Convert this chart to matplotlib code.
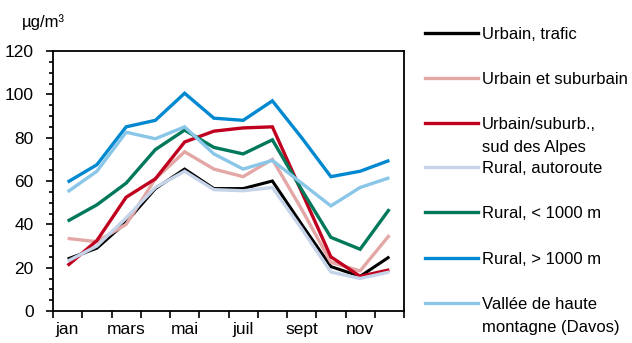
import matplotlib
matplotlib.use("Agg")
import matplotlib.pyplot as plt
from matplotlib.lines import Line2D
from matplotlib.ticker import MultipleLocator, FixedLocator, NullFormatter

plt.rcParams['font.family'] = ['Liberation Sans', 'DejaVu Sans']

months = ["jan", "fév", "mars", "avr", "mai", "juin", "juil", "août", "sept", "oct", "nov", "déc"]
month_labels = ["jan", "", "mars", "", "mai", "", "juil", "", "sept", "", "nov", ""]

series_names = [
    "Urbain, trafic",
    "Urbain et suburbain",
    "Urbain/suburb.,\nsud des Alpes",
    "Rural, autoroute",
    "Rural, < 1000 m",
    "Rural, > 1000 m",
    "Vallée de haute\nmontagne (Davos)",
]

urbain_trafic = [24, 29, 41, 56.5, 65.5, 56.5, 56.5, 60, 40, 20.5, 16, 25]
urbain_suburbain = [33.5, 32, 40, 61, 73.5, 65.5, 62, 70, 47, 22.5, 18.5, 35]
urbain_sud_alpes = [21, 32.5, 52.5, 61, 78, 83, 84.5, 85, 55, 25, 16, 19]
rural_autoroute = [23, 30, 43, 57, 64.5, 56, 55.5, 57, 38, 18, 15, 18]
rural_bas = [41.5, 49, 59, 74.5, 83.5, 75.5, 72.5, 79, 56, 34, 28.5, 47]
rural_haut = [59.5, 67.5, 85, 88, 100.5, 89, 88, 97, 80, 62, 64.5, 69.5]
davos = [55, 64.5, 82.5, 79.5, 85, 72.5, 65.5, 69.5, 59, 48.5, 57, 61.5]

series_values = [urbain_trafic, urbain_suburbain, urbain_sud_alpes, rural_autoroute,
                 rural_bas, rural_haut, davos]
colors = ["#000000", "#E3A7A5", "#C0001F", "#C6D4EA", "#00785A", "#0089D0", "#89C6E8"]
widths = [2.2, 2.4, 2.4, 2.4, 2.4, 2.4, 2.4]

W, H = 632, 343
fig = plt.figure(figsize=(W / 100, H / 100), dpi=100)

def fx(x):
    return x / W

def fy(y):
    return 1 - y / H

ax = fig.add_axes([fx(53), fy(311), fx(404) - fx(53), fy(51) - fy(311)])

x = list(range(len(months)))
for vals, c, lw in zip(series_values, colors, widths):
    ax.plot(x, vals, color=c, lw=lw, solid_joinstyle='miter', solid_capstyle='butt')

ax.set_xlim(-0.5, len(months) - 0.5)
ax.set_ylim(0, 120)

ax.yaxis.set_major_locator(MultipleLocator(20))
ax.yaxis.set_minor_locator(MultipleLocator(5))
ax.tick_params(axis='y', which='major', direction='out', length=5, width=1.2,
               labelsize=12.5, pad=9)
ax.tick_params(axis='y', which='minor', direction='out', length=3, width=1.2)

ax.xaxis.set_major_locator(FixedLocator([i - 0.5 for i in range(len(months) + 1)]))
ax.xaxis.set_major_formatter(NullFormatter())
ax.xaxis.set_minor_locator(FixedLocator(x))
ax.set_xticklabels(month_labels, minor=True)
ax.tick_params(axis='x', which='major', direction='out', length=5, width=1.2)
ax.tick_params(axis='x', which='minor', length=0, labelsize=12.5, pad=8)

for s in ax.spines.values():
    s.set_linewidth(1.3)
    s.set_color('black')

fig.text(fx(22), fy(22), "µg/m³", fontsize=12, va='center', ha='left')

# legend
entry_y = [33, 78, 123, 167, 212, 258, 303]
for name, c, yy in zip(series_names, colors, entry_y):
    fig.add_artist(Line2D([fx(425), fx(478)], [fy(yy), fy(yy)], color=c, lw=2.4,
                          transform=fig.transFigure))
    for k, line in enumerate(name.split("\n")):
        fig.text(fx(482), fy(yy + 6 + 23 * k), line, fontsize=12, va='baseline', ha='left')

fig.savefig("out.png", dpi=100)
